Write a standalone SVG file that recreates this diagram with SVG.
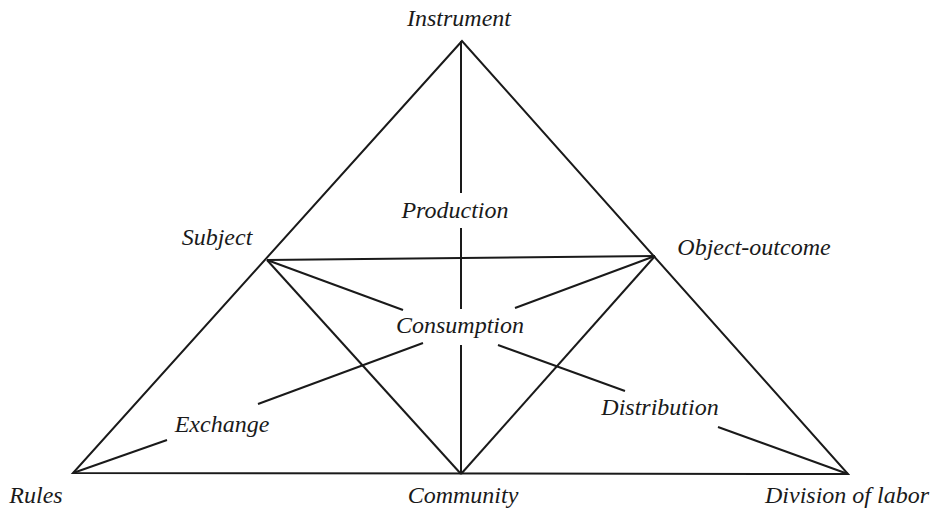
<svg xmlns="http://www.w3.org/2000/svg" width="937" height="513" viewBox="0 0 937 513">
<style>
.bg{fill:#ffffff}
.ln{stroke:#1a1a1a;stroke-width:2;fill:none;stroke-linecap:butt;stroke-linejoin:miter}
.lb{font-family:"Liberation Serif","Times New Roman",serif;font-style:italic;font-size:24px;fill:#1a1a1a;text-anchor:middle}
</style>
<rect class="bg" x="0" y="0" width="937" height="513"/>
<g id="connectors">
<polygon class="ln" points="462,41 73,473 848,474"/>
<line class="ln" x1="267" y1="260" x2="655" y2="256"/>
<line class="ln" x1="267" y1="260" x2="461" y2="474"/>
<line class="ln" x1="655" y1="256" x2="461" y2="474"/>
<line class="ln" x1="461" y1="41" x2="461" y2="193"/>
<line class="ln" x1="461" y1="228" x2="461" y2="309"/>
<line class="ln" x1="461" y1="345" x2="461" y2="474"/>
<line class="ln" x1="73" y1="473" x2="167" y2="440"/>
<line class="ln" x1="258" y1="404" x2="423" y2="343"/>
<line class="ln" x1="515" y1="308" x2="655" y2="256"/>
<line class="ln" x1="267" y1="260" x2="403" y2="310"/>
<line class="ln" x1="498" y1="345" x2="625" y2="391"/>
<line class="ln" x1="718" y1="427" x2="848" y2="474"/>
</g>
<g id="instrument"><text class="lb" x="459" y="26">Instrument</text></g>
<g id="production"><text class="lb" x="455" y="218">Production</text></g>
<g id="subject"><text class="lb" x="217" y="245">Subject</text></g>
<g id="object-outcome"><text class="lb" x="754" y="255">Object-outcome</text></g>
<g id="consumption"><text class="lb" x="460" y="333">Consumption</text></g>
<g id="exchange"><text class="lb" x="222" y="432">Exchange</text></g>
<g id="distribution"><text class="lb" x="660" y="415">Distribution</text></g>
<g id="rules"><text class="lb" x="36" y="503">Rules</text></g>
<g id="community"><text class="lb" x="463" y="503">Community</text></g>
<g id="division-of-labor"><text class="lb" x="847" y="503">Division of labor</text></g>
</svg>
